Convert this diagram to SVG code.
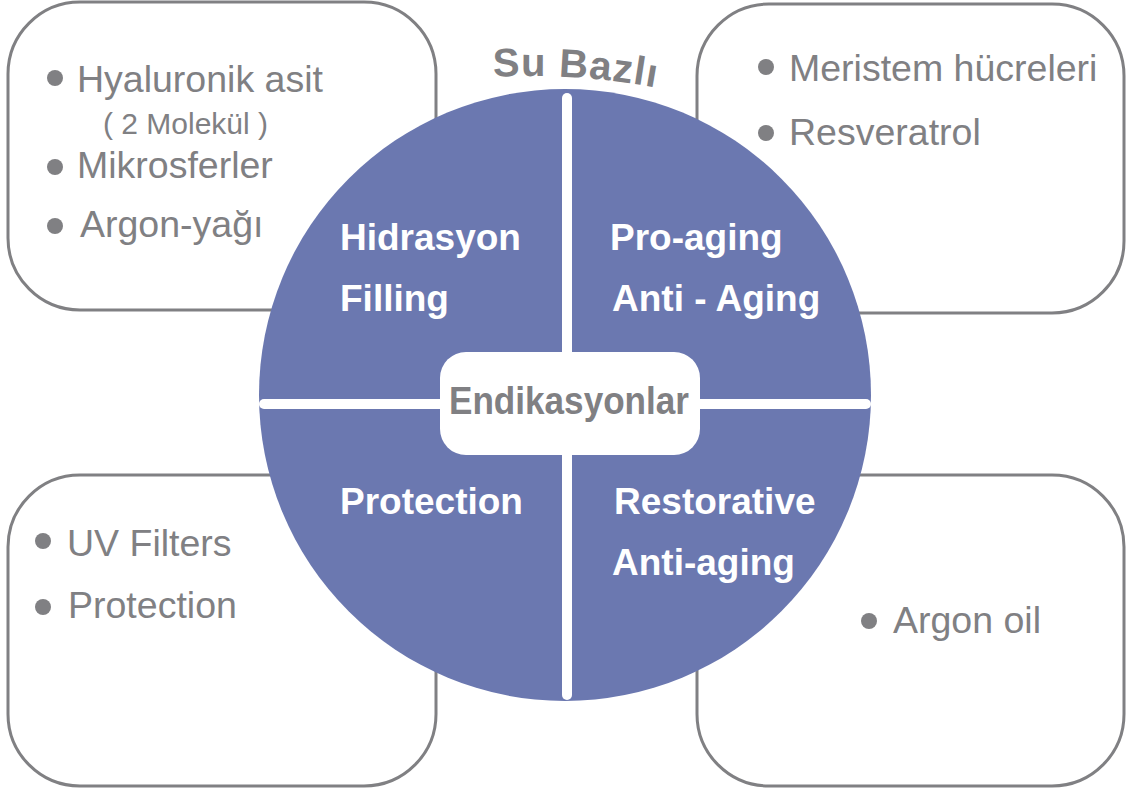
<svg xmlns="http://www.w3.org/2000/svg" width="1126" height="791" viewBox="0 0 1126 791">
<style>
.box{fill:#fff;stroke:#808083;stroke-width:3}
.bul{fill:#808083}
.item{font-family:"Liberation Sans",Arial,sans-serif;font-size:37.5px;fill:#808083}
.small{font-family:"Liberation Sans",Arial,sans-serif;font-size:30px;fill:#808083}
.lbl{font-family:"Liberation Sans",Arial,sans-serif;font-size:37px;font-weight:bold;fill:#fff}
.ctr{font-family:"Liberation Sans",Arial,sans-serif;font-size:38px;font-weight:bold;fill:#808083}
.ttl{font-family:"Liberation Sans",Arial,sans-serif;font-size:40px;font-weight:bold;fill:#808083;letter-spacing:1px}
.div{stroke:#fff;stroke-width:10;stroke-linecap:round}
</style>
<defs>
<path id="arc" d="M330,105.2 A700,700 0 0,1 730,105.2"/>
</defs>
<g id="box-tl">
<rect class="box" x="8" y="2" width="428" height="308" rx="72"/>
<circle class="bul" cx="55" cy="78" r="8"/>
<text class="item" x="77" y="92">Hyaluronik asit</text>
<text class="small" x="103" y="134">( 2 Molekül )</text>
<circle class="bul" cx="55" cy="167" r="8"/>
<text class="item" x="77" y="178">Mikrosferler</text>
<circle class="bul" cx="55" cy="226" r="8"/>
<text class="item" x="80" y="237">Argon-yağı</text>
</g>
<g id="box-tr">
<rect class="box" x="697" y="4" width="427" height="309" rx="72"/>
<circle class="bul" cx="766" cy="67" r="8"/>
<text class="item" x="789" y="81">Meristem hücreleri</text>
<circle class="bul" cx="766" cy="133" r="8"/>
<text class="item" x="789" y="145">Resveratrol</text>
</g>
<g id="box-bl">
<rect class="box" x="8" y="475" width="428" height="311" rx="72"/>
<circle class="bul" cx="43" cy="541" r="8"/>
<text class="item" x="67" y="556">UV Filters</text>
<circle class="bul" cx="43" cy="607" r="8"/>
<text class="item" x="68" y="618">Protection</text>
</g>
<g id="box-br">
<rect class="box" x="697" y="475" width="427" height="311" rx="72"/>
<circle class="bul" cx="869" cy="621" r="8"/>
<text class="item" x="893" y="633">Argon oil</text>
</g>
<g id="circle">
<circle cx="565" cy="395" r="306" fill="#6b78b0"/>
</g>
<g id="connectors">
<line class="div" x1="567" y1="98" x2="567" y2="695"/>
<line class="div" x1="264" y1="404" x2="866" y2="404"/>
</g>
<g id="center">
<rect x="440" y="352" width="260" height="103" rx="26" fill="#fff"/>
<text class="ctr" x="569" y="414" text-anchor="middle" textLength="240" lengthAdjust="spacingAndGlyphs">Endikasyonlar</text>
</g>
<g id="q-tl">
<text class="lbl" x="340" y="250">Hidrasyon</text>
<text class="lbl" x="340" y="311">Filling</text>
</g>
<g id="q-tr">
<text class="lbl" x="610" y="250">Pro-aging</text>
<text class="lbl" x="612" y="311">Anti - Aging</text>
</g>
<g id="q-bl">
<text class="lbl" x="340" y="514">Protection</text>
</g>
<g id="q-br">
<text class="lbl" x="614" y="514">Restorative</text>
<text class="lbl" x="612" y="575">Anti-aging</text>
</g>
<g id="title">
<text class="ttl"><textPath href="#arc" startOffset="166">Su Bazlı</textPath></text>
</g>
</svg>
